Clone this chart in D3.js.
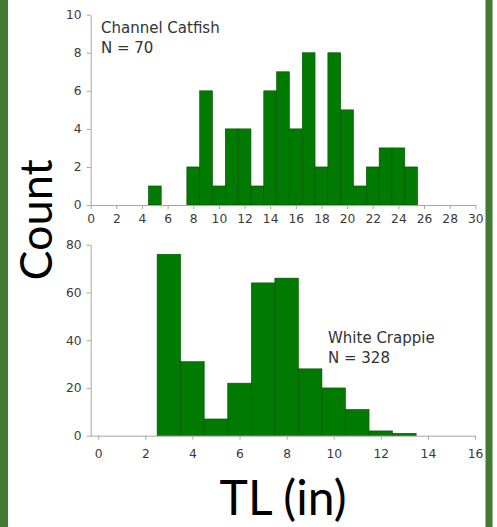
<!DOCTYPE html>
<html>
<head>
<meta charset="utf-8">
<script src="https://cdn.jsdelivr.net/npm/d3@7"></script>
<style>
  body { margin: 0; background: #fff; }
  svg { display: block; }
  .tick text { font-family: "DejaVu Sans", Verdana, sans-serif; font-size: 12.3px; fill: #3a3a3a; }
  .domain, .tick line { stroke: #a6a6a6; }
</style>
</head>
<body>
<svg id="chart" width="497" height="527"></svg>
<script>
// Channel Catfish: 1-inch bins centred on these lengths
const catfishLengths = [5, 8, 9, 10, 11, 12, 13, 14, 15, 16, 17, 18, 19, 20, 21, 22, 23, 24, 25];
const catfishCounts  = [1, 2, 6, 1, 4, 4, 1, 6, 7, 4, 8, 2, 8, 5, 1, 2, 3, 3, 2];

// White Crappie
const crappieLengths = [3, 4, 5, 6, 7, 8, 9, 10, 11, 12, 13];
const crappieCounts  = [76, 31, 7, 22, 64, 66, 28, 20, 11, 2, 1];

const catfishXTicks = d3.range(0, 31, 2);
const catfishYTicks = [0, 2, 4, 6, 8, 10];
const crappieXTicks = d3.range(0, 17, 2);
const crappieYTicks = [0, 20, 40, 60, 80];

const BAR_FILL = "#007a00";
const BAR_STROKE = "#005200";
const FRAME_GREEN = "#437a31";

const svg = d3.select("#chart");

// green side frame
svg.append("rect").attr("x", 0).attr("y", 0).attr("width", 8).attr("height", 527).attr("fill", FRAME_GREEN);
svg.append("rect").attr("x", 485.5).attr("y", 0).attr("width", 7).attr("height", 527).attr("fill", FRAME_GREEN);

function drawHist(opts) {
    const { x, y, lengths, counts, xTicks, yTicks, xPad } = opts;
    const g = svg.append("g");

    const bins = lengths.map((L, i) => ({ x0: L - 0.5, x1: L + 0.5, n: counts[i] }));

    g.append("g")
        .selectAll("rect")
        .data(bins)
        .enter()
        .append("rect")
        .attr("x", d => x(d.x0))
        .attr("y", d => y(d.n))
        .attr("width", d => x(d.x1) - x(d.x0))
        .attr("height", d => y(0) - y(d.n))
        .attr("fill", BAR_FILL)
        .attr("stroke", BAR_STROKE)
        .attr("stroke-width", 0.6);

    // axes
    g.append("g")
        .attr("transform", `translate(0,${y.range()[0]})`)
        .call(d3.axisBottom(x).tickValues(xTicks).tickSize(4).tickSizeOuter(0).tickPadding(xPad));

    g.append("g")
        .attr("transform", `translate(${x.range()[0]},0)`)
        .call(d3.axisLeft(y).tickValues(yTicks).tickSize(4).tickSizeOuter(0).tickPadding(5));

    return g;
}

// top: Channel Catfish
const x1 = d3.scaleLinear().domain([0, 30]).range([90.7, 475.3]);
const y1 = d3.scaleLinear().domain([0, 10]).range([205, 14.7]);
drawHist({ x: x1, y: y1, lengths: catfishLengths, counts: catfishCounts,
    xTicks: catfishXTicks, yTicks: catfishYTicks, xPad: 5 });

// bottom: White Crappie (axis starts a little left of 0)
const x2 = d3.scaleLinear().domain([-0.32, 16]).range([90.7, 475]);
const y2 = d3.scaleLinear().domain([0, 80]).range([435.7, 244.7]);
drawHist({ x: x2, y: y2, lengths: crappieLengths, counts: crappieCounts,
    xTicks: crappieXTicks, yTicks: crappieYTicks, xPad: 10 });

// species labels
function label(xp, yp, lines) {
    const t = svg.append("text")
        .attr("font-family", "'DejaVu Sans', Verdana, sans-serif")
        .attr("font-size", 15)
        .attr("fill", "#333");
    lines.forEach((s, i) => {
        t.append("tspan").attr("x", xp).attr("y", yp + i * 20).text(s);
    });
}
label(101, 33, ["Channel Catfish", "N = 70"]);
label(328, 343, ["White Crappie", "N = 328"]);

// big axis titles
svg.append("text")
    .attr("transform", "translate(51.5,220) rotate(-90)")
    .attr("text-anchor", "middle")
    .attr("font-family", "Lato, 'Open Sans', sans-serif")
    .attr("font-size", 45)
    .attr("fill", "#000")
    .text("Count");

svg.append("text")
    .attr("x", 283)
    .attr("y", 515)
    .attr("text-anchor", "middle")
    .attr("font-family", "Lato, 'Open Sans', sans-serif")
    .attr("font-size", 48)
    .attr("fill", "#000")
    .text("TL (in)");
</script>
</body>
</html>
